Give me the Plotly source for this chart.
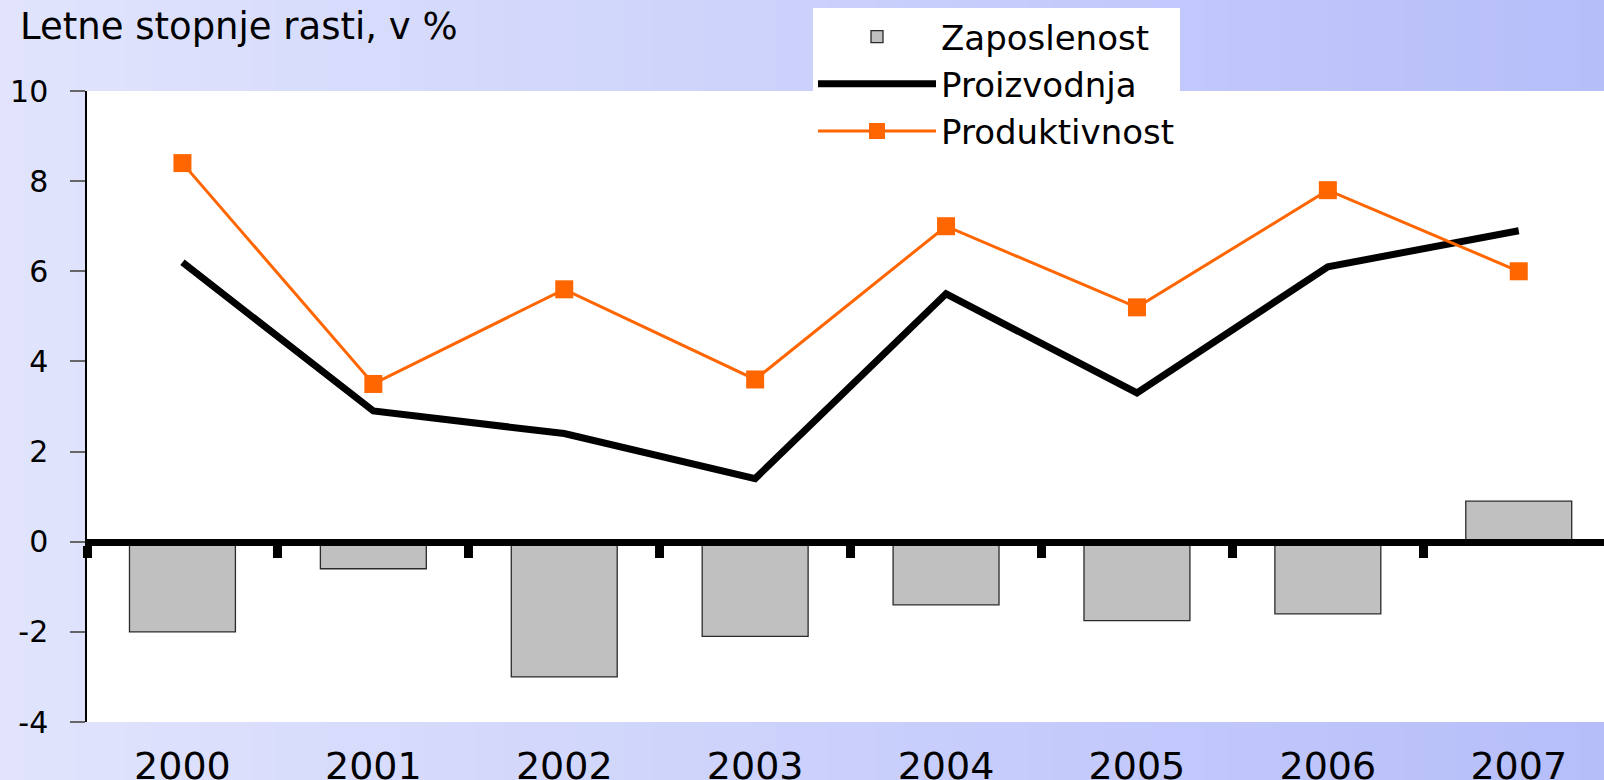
import plotly.graph_objects as go

years = ["2000", "2001", "2002", "2003", "2004", "2005", "2006", "2007"]
zaposlenost = [-2.0, -0.6, -3.0, -2.1, -1.4, -1.75, -1.6, 0.9]
proizvodnja = [6.2, 2.9, 2.4, 1.4, 5.5, 3.3, 6.1, 6.9]
produktivnost = [8.4, 3.5, 5.6, 3.6, 7.0, 5.2, 7.8, 6.0]
y_ticks = [-4, -2, 0, 2, 4, 6, 8, 10]
y_tick_text = [str(v) for v in y_ticks]
title_text = "Letne stopnje rasti, v %"

FONT = "DejaVu Sans"
W, H = 1604, 780
ML, MT = 87, 91
PW = W - ML
MB = H - 722
PH = H - MT - MB
Y_MIN, Y_MAX = -4, 10
X_RANGE = [-0.5, -0.5 + PW / 190.9]


def px_x(wx):
    return (wx - ML) / PW


def px_y(wy):
    return (722 - wy) / PH


fig = go.Figure()
fig.add_trace(go.Bar(
    x=years, y=zaposlenost, name="Zaposlenost", width=0.555,
    marker=dict(color="#C0C0C0", line=dict(color="#2a2a2a", width=1.3)),
))
fig.add_trace(go.Scatter(
    x=years, y=proizvodnja, name="Proizvodnja", mode="lines",
    line=dict(color="#000000", width=7),
))
fig.add_trace(go.Scatter(
    x=years, y=produktivnost, name="Produktivnost", mode="lines+markers",
    line=dict(color="#FF6600", width=3),
    marker=dict(symbol="square", size=18, color="#FF6600"),
))
# helper axis carrying the zero line and category-boundary ticks
fig.add_trace(go.Scatter(x=[], y=[], xaxis="x2", showlegend=False, hoverinfo="skip"))

# background gradient (left light lavender -> right blue)
c0 = (0xE1, 0xE4, 0xFC)
c1 = (0xB6, 0xBE, 0xFA)
n = 64
shapes = []
for i in range(n):
    t = i / (n - 1)
    col = tuple(round(c0[k] + (c1[k] - c0[k]) * t) for k in range(3))
    wx0 = W * i / n
    wx1 = W * (i + 1) / n + 1
    shapes.append(dict(
        type="rect", xref="paper", yref="paper", layer="below",
        x0=px_x(wx0 - 10 if i == 0 else wx0), x1=px_x(wx1),
        y0=px_y(H + 20), y1=px_y(-20),
        fillcolor="rgb(%d,%d,%d)" % col, line=dict(width=0),
    ))
shapes.append(dict(type="rect", xref="paper", yref="paper", layer="below",
                   x0=0, x1=1.02, y0=0, y1=1, fillcolor="white", line=dict(width=0)))

fig.update_layout(
    width=W, height=H,
    margin=dict(l=ML, r=0, t=MT, b=MB, pad=0, autoexpand=False),
    paper_bgcolor="#E1E4FC", plot_bgcolor="rgba(0,0,0,0)",
    shapes=shapes,
    font=dict(family=FONT, color="#000000"),
    showlegend=True,
    legend=dict(
        x=px_x(813), y=px_y(8), xanchor="left", yanchor="top",
        bgcolor="white", borderwidth=0, font=dict(family=FONT, size=34),
        itemwidth=118, traceorder="normal", tracegroupgap=0,
    ),
    annotations=[dict(
        text=title_text, xref="paper", yref="paper",
        x=px_x(18), y=px_y(26), xanchor="left", yanchor="middle",
        showarrow=False, font=dict(family=FONT, size=37, color="#000000"),
    )],
    bargap=0.445,
    xaxis=dict(
        type="category", range=X_RANGE, showgrid=False, zeroline=False,
        showline=False, ticks="", tickfont=dict(family=FONT, size=38),
        ticklabelstandoff=18,
    ),
    xaxis2=dict(
        overlaying="x", anchor="free", position=(0 - Y_MIN) / (Y_MAX - Y_MIN),
        range=X_RANGE, showgrid=False, zeroline=False,
        showline=True, linecolor="#000000", linewidth=7,
        ticks="outside", ticklen=12, tickwidth=9, tickcolor="#000000",
        tickmode="array", tickvals=[-0.5, 0.5, 1.5, 2.5, 3.5, 4.5, 5.5, 6.5],
        showticklabels=False, layer="above traces",
    ),
    yaxis=dict(
        range=[Y_MIN, Y_MAX], tickmode="array", tickvals=y_ticks,
        ticktext=y_tick_text,
        showgrid=False, zeroline=False, showline=True, linecolor="#000000",
        linewidth=1.5, ticks="outside", ticklen=15, tickcolor="#666666",
        tickwidth=1.5, tickfont=dict(family=FONT, size=30),
        ticklabelstandoff=16,
    ),
)

fig.write_html(
    "out.html",
    config={"displayModeBar": False},
    post_script="document.body.style.margin='0';document.body.style.overflow='hidden';",
)
